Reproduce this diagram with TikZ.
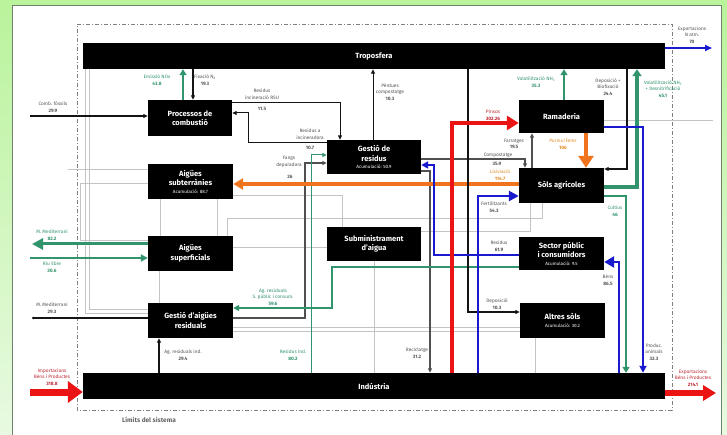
\documentclass[tikz,border=0pt]{standalone}
\usepackage{fontspec}
\setmainfont{Fira Sans}
\usetikzlibrary{arrows.meta}
\definecolor{tealc}{RGB}{50,148,108}
\definecolor{bluec}{RGB}{25,25,205}
\definecolor{redc}{RGB}{235,20,20}
\definecolor{orangec}{RGB}{240,115,30}
\definecolor{darkc}{RGB}{20,20,20}
\definecolor{grayc}{RGB}{80,80,80}
\definecolor{lightc}{RGB}{196,196,196}
\definecolor{labc}{RGB}{85,85,85}
\definecolor{redlab}{RGB}{190,40,50}
\definecolor{oranglab}{RGB}{225,140,40}
\definecolor{framec}{RGB}{110,130,110}
\definecolor{bgtop}{RGB}{185,243,155}
\definecolor{bgbot}{RGB}{232,250,225}
\begin{document}
\begin{tikzpicture}[x=1pt,y=-1pt,
  blkbox/.style={fill=black, text=white, inner sep=0pt, align=center, font=\fontsize{7.5}{9.5}\selectfont\bfseries},
  lab/.style={inner sep=0pt, align=center, font=\fontsize{4.8}{6.5}\selectfont, text=labc},
  lgray/.style={draw=lightc, line width=0.8pt},
  tipS/.style={-{Triangle[length=4.5pt,width=4pt]}},
  acum/.style={}]
\useasboundingbox (0,0) rectangle (727,435);
\shade[top color=bgtop, bottom color=bgbot] (0,0) rectangle (727,435);
\filldraw[fill=white, draw=framec, line width=0.8pt] (12,5) rectangle (721,445);
% system boundary
\draw[gray, line width=0.7pt, dash pattern=on 4pt off 2pt on 1pt off 2pt] (77,24) -- (672,24) -- (672,410) -- (77,410) -- cycle;
\node[font=\fontsize{6.5}{7}\selectfont\bfseries, text=black!60, inner sep=0pt] (lim) at (149,420) {Límits del sistema};

% boxes
\node[blkbox, minimum width=582pt, minimum height=26pt] (tropo) at (374,56) {Troposfera};
\node[blkbox, minimum width=582pt, minimum height=26pt] (ind) at (374,386) {Indústria};
\node[blkbox, minimum width=84pt, minimum height=36pt] (proc) at (190,118) {Processos de\\combustió};
\node[blkbox, minimum width=94pt, minimum height=34pt] (gres) at (374,157) {Gestió de\\residus\\[-2pt]{\fontsize{4.6}{5.5}\selectfont\mdseries Acumulació: 50.9}};
\node[blkbox, minimum width=85pt, minimum height=35pt] (asub) at (190.5,181.5) {Aigües\\subterrànies\\[-2pt]{\fontsize{4.6}{5.5}\selectfont\mdseries Acumulació: 88.7}};
\node[blkbox, minimum width=85pt, minimum height=35pt] (asup) at (190.5,253.5) {Aigües\\superficials};
\node[blkbox, minimum width=94pt, minimum height=34pt] (subm) at (374,244) {Subministrament\\d'aigua};
\node[blkbox, minimum width=85pt, minimum height=35pt] (gar) at (190.5,320.5) {Gestió d'aigües\\residuals};
\node[blkbox, minimum width=85pt, minimum height=33pt] (ram) at (561.5,116.5) {Ramaderia};
\node[blkbox, minimum width=85pt, minimum height=35pt] (sols) at (561.5,185.5) {Sòls agrícoles};
\node[blkbox, minimum width=85pt, minimum height=33pt] (sect) at (561.5,253.5) {Sector públic\\i consumidors\\[-2pt]{\fontsize{4.6}{5.5}\selectfont\mdseries Acumulació: 9.5}};
\node[blkbox, minimum width=85pt, minimum height=35pt] (altr) at (562.5,320.5) {Altres sòls\\[-2pt]{\fontsize{4.6}{5.5}\selectfont\mdseries Acumulació: 30.2}};

% light gray water lines
\draw[lgray] (tropo.south -| 85,0) |- (gar.west |- 0,313);
\draw[lgray] (tropo.south -| 89,0) |- (gar.west |- 0,309);
\coordinate (g3) at (68,169);
\draw[lgray] (g3) -- (asub.west |- g3);
\draw[lgray] (asub.west |- 0,183) -| (80,240) -- (asup.west |- 0,240);
\draw[lgray] (asub.south -| 160,0) -- (asup.north -| 160,0);
\draw[lgray] (asub.south -| 217,0) -- (asup.north -| 217,0);
\draw[lgray] (sols.south -| 542,0) |- (227,218) -- (asup.north -| 227,0);
\draw[lgray] (asub.east |- 0,195) -| (subm.north -| 342,0);
\draw[lgray] (asup.east |- 0,247) -- (subm.west |- 0,247);
\draw[lgray] (asup.south -| 159,0) -- (gar.north -| 159,0);
\draw[lgray] (subm.south -| 374,0) -- (ind.north -| 374,0);
\draw[lgray] (altr.south -| 535,0) -- (ind.north -| 535,0);
\draw[lgray] (gar.east |- 0,327) -- (altr.west |- 0,327);
\draw[lgray] (gar.east |- 0,331) -- (altr.west |- 0,331);
\coordinate (g13) at (713,120);
\draw[lgray] (ram.east |- g13) -- (g13);
\draw[lgray] (subm.east |- 0,231) -| (sols.south -| 530,0);

% gray / black connectors
\coordinate (cf) at (30,116);
\draw[darkc, line width=1.3pt, tipS] (cf) -- (cf -| proc.west);
\draw[darkc, line width=1.3pt, tipS] (tropo.south -| 193,0) -- (proc.north -| 193,0);
\draw[darkc, line width=1pt, tipS] (proc.east |- 0,103) -| (gres.north -| 340,0);
\draw[darkc, line width=1pt, tipS] (gres.west |- 0,143) -| (248,113) -- (proc.east |- 0,113);
\draw[darkc, line width=1pt, tipS] (gres.north -| 373,0) -- (tropo.south -| 373,0);
\draw[grayc, line width=1.2pt, tipS] (sols.north -| 532,0) -- (ram.south -| 532,0);
\draw[grayc, line width=1.2pt, tipS] (gres.east |- 0,159) -| (sols.north -| 525,0);
\draw[grayc, line width=1.2pt, tipS] (gres.east |- 0,171) -| (ind.north -| 430,0);
\draw[grayc, line width=1.2pt, tipS] (gar.east |- 0,318) -| (305,163) -- (gres.west |- 0,163);
\coordinate (mm2) at (32,318);
\draw[darkc, line width=1.2pt, -{Circle[length=2.5pt]}] (gar.west |- mm2) -- (mm2);
\draw[darkc, line width=1.2pt, tipS] (ind.north -| 159,0) -- (gar.south -| 159,0);

% teal connectors
\draw[tealc, line width=2.4pt, -{Triangle[length=6pt,width=7pt]}] (proc.north -| 183,0) -- (tropo.south -| 183,0);
\draw[tealc, line width=2.4pt, -{Triangle[length=6pt,width=7pt]}] (ram.north -| 564,0) -- (tropo.south -| 564,0);
\draw[tealc, line width=3.4pt, -{Triangle[length=7pt,width=9pt]}] (sols.east |- 0,187) -| (tropo.south -| 637,0);
\draw[tealc, line width=2.4pt, -{Triangle[length=6pt,width=7pt]}] (sols.east |- 0,196) -| (ind.north -| 626,0);
\draw[tealc, line width=1pt, tipS] (ind.north -| 311,0) |- (gres.west |- 0,155);
\draw[tealc, line width=1.8pt, -{Triangle[length=6pt,width=6pt]}] (sect.west |- 0,267) -| (332,308) -- (gar.east |- 0,308);
\coordinate (mm1) at (32,244);
\draw[tealc, line width=3pt, -{Triangle[length=11pt,width=11pt]}] (asup.west |- mm1) -- (mm1);
\coordinate (re) at (30,258);
\draw[tealc, line width=2.2pt, -{Triangle[length=7pt,width=7pt]}] (re) -- (re -| asup.west);

% orange
\draw[orangec, line width=3.6pt, -{Triangle[length=10pt,width=11pt]}] (sols.west |- 0,184) -- (asub.east |- 0,184);
\draw[orangec, line width=4.5pt, -{Triangle[length=12pt,width=15pt]}] (ram.south -| 586,0) -- (sols.north -| 586,0);

% black long lines
\draw[darkc, line width=1.8pt, tipS] (tropo.south -| 468,0) |- (altr.west |- 0,312);
\draw[darkc, line width=1.6pt, tipS] (tropo.south -| 627,0) |- (sols.east |- 0,169);

% blue
\coordinate (expN) at (712,48);
\draw[bluec, line width=1.6pt, -{Triangle[length=7pt,width=6pt]}] (tropo.east |- expN) -- (expN);
\draw[bluec, line width=2.8pt, -{Triangle[length=10pt,width=10pt]}] (ind.north -| 478,0) |- (sols.west |- 0,196);
\draw[bluec, line width=2.2pt, -{Triangle[length=7pt,width=7pt]}] (sect.west |- 0,255) -| (434,165) -- (gres.east |- 0,165);
\draw[bluec, line width=2.8pt, -{Triangle[length=10pt,width=11pt]}] (ind.north -| 619,0) |- (sect.east |- 0,262);
\draw[bluec, line width=2.2pt, -{Triangle[length=7pt,width=7pt]}] (ram.east |- 0,127) -| (ind.north -| 643,0);

% red
\draw[redc, line width=4.5pt, -{Triangle[length=12pt,width=14pt]}] (ind.north -| 452,0) |- (ram.west |- 0,123);
\coordinate (imp) at (30,392);
\draw[redc, line width=7pt, -{Triangle[length=15pt,width=21pt]}] (imp) -- (imp -| ind.west);
\coordinate (exb) at (716,393);
\draw[redc, line width=6pt, -{Triangle[length=13pt,width=15pt]}] (ind.east |- exb) -- (exb);

% labels
\node[lab] (lcf) at (53,107) {Comb. fòssils\\\textbf{29.9}};
\node[lab, text=tealc] (lnox) at (157,80) {Emissió NOx\\\textbf{43.8}};
\node[lab] (lfix) at (205,80) {Fixació N\textsubscript{2}\\\textbf{19.3}};
\node[lab] (lrsu) at (262,94) {Residus\\incineració RSU};
\node[lab] (lrsun) at (262,108.5) {\textbf{11.5}};
\node[lab] (linc) at (310,134) {Residus a\\incineradora};
\node[lab] (lincn) at (310,148) {\textbf{10.7}};
\node[lab] (lperd) at (390,92) {Pèrdues\\compostatge\\\textbf{10.3}};
\node[lab, text=redlab] (lpins) at (493,115) {Pinsos\\\textbf{302.26}};
\node[lab] (lexpn) at (692,35) {Exportacions\\N atm.\\\textbf{70}};
\node[lab, text=tealc] (lvol) at (536,82) {Volatilització NH\textsubscript{3}\\\textbf{35.3}};
\node[lab] (ldep) at (608,87) {Deposició +\\Biofixació\\\textbf{24.4}};
\node[lab, text=tealc] (lvd) at (663,89) {Volatilització NH\textsubscript{3}\\+ Desnitrificació\\\textbf{45.1}};
\node[lab] (lfar) at (514,144) {Farratges\\\textbf{19.5}};
\node[lab, text=oranglab] (lpur) at (563,144) {Purins/Fems\\\textbf{106}};
\node[lab] (lcomp) at (498,155) {Compostatge};
\node[lab] (lcompn) at (497,164) {\textbf{35.9}};
\node[lab, text=oranglab] (llix) at (500,175) {Lixiviació\\\textbf{114.7}};
\node[lab] (lfert) at (494,207) {Fertilitzants\\\textbf{54.3}};
\node[lab, text=tealc] (lcult) at (615,211) {Cultius\\\textbf{46}};
\node[lab] (lresp) at (499,246) {Residus\\\textbf{61.9}};
\node[lab] (lbens) at (608,280) {Béns\\\textbf{86.5}};
\node[lab] (ldep2) at (497,304) {Deposició\\\textbf{10.3}};
\node[lab] (lprod) at (654,352) {Produc.\\animals\\\textbf{32.3}};
\node[lab] (lfang) at (289,162) {Fangs\\depuradora};
\node[lab] (lfangn) at (290,177) {\textbf{26}};
\node[lab, text=tealc] (lagsp) at (273,297) {Ag. residuals\\S. públic i consum.\\\textbf{59.6}};
\node[lab, text=tealc] (lrind) at (293,355) {Residus ind.\\\textbf{80.2}};
\node[lab] (lrec) at (417,353) {Reciclatge\\\textbf{31.2}};
\node[lab] (lagi) at (183,355) {Ag. residuals ind.\\\textbf{29.4}};
\node[lab, text=tealc] (lmm1) at (52,235) {M. Mediterrani\\\textbf{82.2}};
\node[lab, text=tealc] (lre) at (52,267) {Riu Ebre\\\textbf{30.6}};
\node[lab] (lmm2) at (52,308) {M. Mediterrani\\\textbf{29.3}};
\node[lab, text=redlab] (limp) at (52,377) {Importacions\\Béns i Productes\\\textbf{318.8}};
\node[lab, text=redlab] (lexb) at (693,378) {Exportacions\\Béns i Productes\\\textbf{214.1}};
\end{tikzpicture}
\end{document}
